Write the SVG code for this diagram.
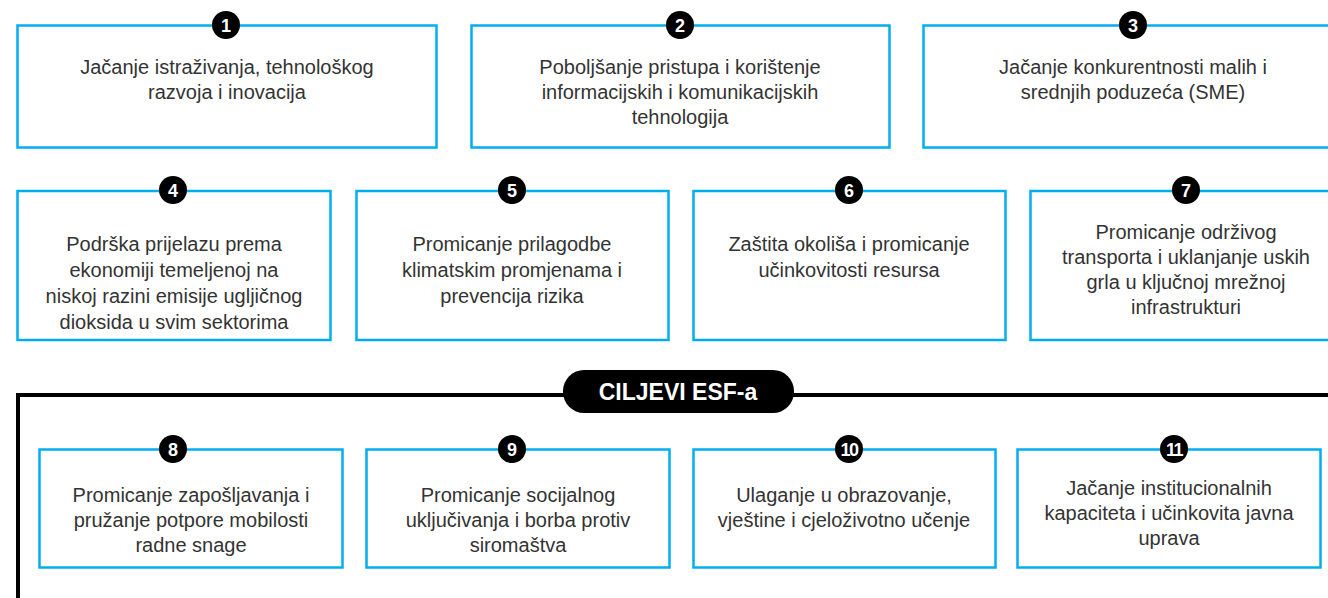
<svg xmlns="http://www.w3.org/2000/svg" width="1328" height="598" viewBox="0 0 1328 598">
<style>
.box{fill:#fff;stroke:#00aeef;stroke-width:2.5}
.t{font-family:"Liberation Sans",Arial,sans-serif;font-size:20px;fill:#333;text-anchor:middle}
.bc{fill:#000}
.bn{font-family:"Liberation Sans",Arial,sans-serif;font-size:18px;font-weight:bold;fill:#fff;text-anchor:middle}
.frame{fill:none;stroke:#000;stroke-width:4}
</style>
<rect width="1328" height="598" fill="#fff"/>
<g id="connectors"></g>
<g id="esf-frame">
<path class="frame" d="M18,600 V395 H1332"/>
<rect x="563" y="370" width="231" height="43" rx="21" fill="#000"/>
<text x="678" y="400" font-family="Liberation Sans, Arial, sans-serif" font-size="23" font-weight="bold" fill="#fff" text-anchor="middle">CILJEVI ESF-a</text>
</g>
<g id="n1">
<rect class="box" x="17.5" y="25.5" width="419" height="122"/>
<circle class="bc" cx="226" cy="25" r="14"/><text class="bn" x="226" y="31.5">1</text>
<text class="t" x="227" y="74">Jačanje istraživanja, tehnološkog</text>
<text class="t" x="227" y="99">razvoja i inovacija</text>
</g>
<g id="n2">
<rect class="box" x="471.5" y="25.5" width="418" height="122"/>
<circle class="bc" cx="680" cy="25" r="14"/><text class="bn" x="680" y="31.5">2</text>
<text class="t" x="680" y="74">Poboljšanje pristupa i korištenje</text>
<text class="t" x="680" y="99">informacijskih i komunikacijskih</text>
<text class="t" x="680" y="124">tehnologija</text>
</g>
<g id="n3">
<rect class="box" x="923.5" y="25.5" width="420" height="122"/>
<circle class="bc" cx="1133" cy="25" r="14"/><text class="bn" x="1133" y="31.5">3</text>
<text class="t" x="1133" y="74">Jačanje konkurentnosti malih i</text>
<text class="t" x="1133" y="99">srednjih poduzeća (SME)</text>
</g>
<g id="n4">
<rect class="box" x="17.5" y="191" width="313" height="149"/>
<circle class="bc" cx="173" cy="190" r="14"/><text class="bn" x="173" y="196.5">4</text>
<text class="t" x="174" y="251">Podrška prijelazu prema</text>
<text class="t" x="174" y="277">ekonomiji temeljenoj na</text>
<text class="t" x="174" y="303">niskoj razini emisije ugljičnog</text>
<text class="t" x="174" y="329">dioksida u svim sektorima</text>
</g>
<g id="n5">
<rect class="box" x="356.5" y="191" width="312" height="149"/>
<circle class="bc" cx="512" cy="190" r="14"/><text class="bn" x="512" y="196.5">5</text>
<text class="t" x="512" y="251">Promicanje prilagodbe</text>
<text class="t" x="512" y="277">klimatskim promjenama i</text>
<text class="t" x="512" y="303">prevencija rizika</text>
</g>
<g id="n6">
<rect class="box" x="693.5" y="191" width="312" height="149"/>
<circle class="bc" cx="849" cy="190" r="14"/><text class="bn" x="849" y="196.5">6</text>
<text class="t" x="849" y="251">Zaštita okoliša i promicanje</text>
<text class="t" x="849" y="277">učinkovitosti resursa</text>
</g>
<g id="n7">
<rect class="box" x="1030.5" y="191" width="313" height="149"/>
<circle class="bc" cx="1186" cy="190" r="14"/><text class="bn" x="1186" y="196.5">7</text>
<text class="t" x="1186" y="239">Promicanje održivog</text>
<text class="t" x="1186" y="264">transporta i uklanjanje uskih</text>
<text class="t" x="1186" y="289">grla u ključnoj mrežnoj</text>
<text class="t" x="1186" y="314">infrastrukturi</text>
</g>
<g id="n8">
<rect class="box" x="39.5" y="449.5" width="303" height="118"/>
<circle class="bc" cx="173" cy="449" r="14"/><text class="bn" x="173" y="455.5">8</text>
<text class="t" x="191" y="502">Promicanje zapošljavanja i</text>
<text class="t" x="191" y="527">pružanje potpore mobilosti</text>
<text class="t" x="191" y="552">radne snage</text>
</g>
<g id="n9">
<rect class="box" x="366.5" y="449.5" width="303" height="118"/>
<circle class="bc" cx="512" cy="449" r="14"/><text class="bn" x="512" y="455.5">9</text>
<text class="t" x="518" y="502">Promicanje socijalnog</text>
<text class="t" x="518" y="527">uključivanja i borba protiv</text>
<text class="t" x="518" y="552">siromaštva</text>
</g>
<g id="n10">
<rect class="box" x="693.5" y="449.5" width="302" height="118"/>
<circle class="bc" cx="849" cy="449" r="14"/><text class="bn" x="849" y="455.5" letter-spacing="-1.5">10</text>
<text class="t" x="844" y="502">Ulaganje u obrazovanje,</text>
<text class="t" x="844" y="527">vještine i cjeloživotno učenje</text>
</g>
<g id="n11">
<rect class="box" x="1017.5" y="449.5" width="303" height="118"/>
<circle class="bc" cx="1174" cy="449" r="14"/><text class="bn" x="1174" y="455.5" letter-spacing="-1.5">11</text>
<text class="t" x="1169" y="495">Jačanje institucionalnih</text>
<text class="t" x="1169" y="520">kapaciteta i učinkovita javna</text>
<text class="t" x="1169" y="545">uprava</text>
</g>
</svg>
